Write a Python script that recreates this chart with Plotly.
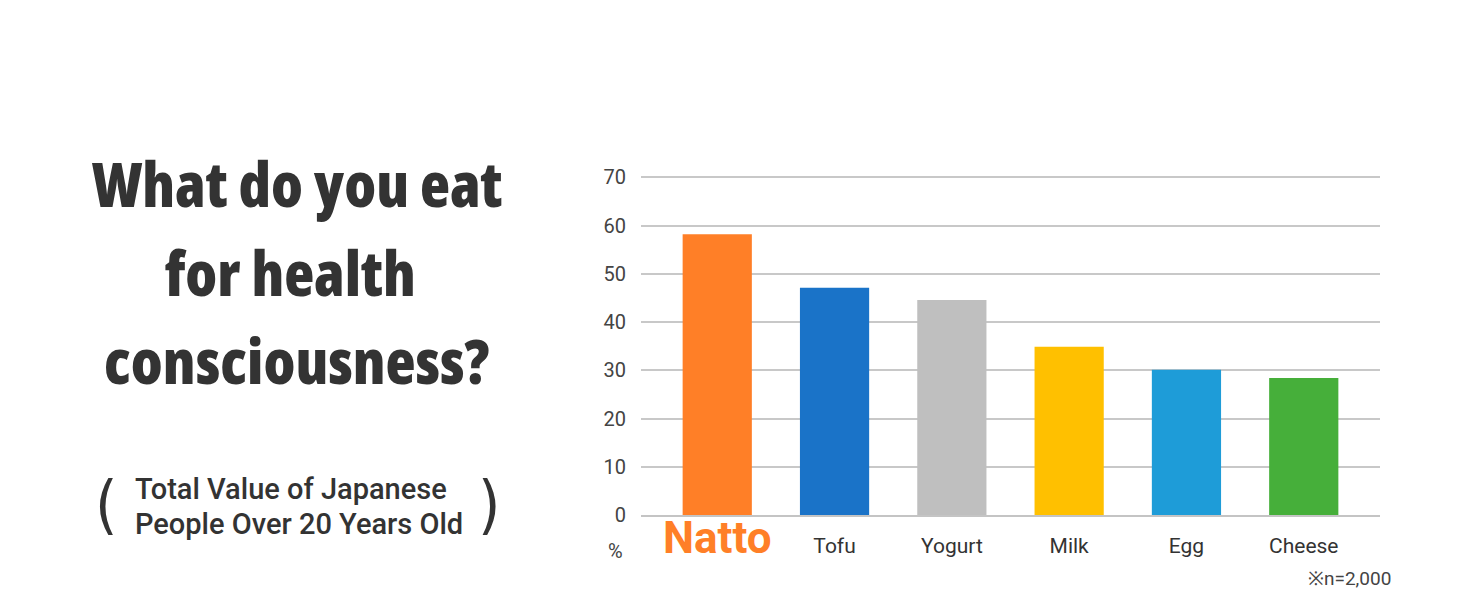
import plotly.graph_objects as go

# survey values (%)
foods = ["Natto", "Tofu", "Yogurt", "Milk", "Egg", "Cheese"]
shares = [58.2, 47.1, 44.6, 34.9, 30.1, 28.4]
bar_colors = ["#FF7F27", "#1A73C8", "#BFBFBF", "#FFC000", "#1E9CD8", "#46AF3A"]
y_ticks = [0, 10, 20, 30, 40, 50, 60, 70]

W, H = 1464, 600
OFF = 8  # page margin around the plot div
Y_TOP = 70.5  # a little headroom so the 70 gridline is drawn
L, R, B = 641 - OFF, 84 + OFF, 85 + OFF
T = round(177 - (515 - 177) / 70 * (Y_TOP - 70)) - OFF


def px(x):
    return (x - OFF - L) / (W - L - R)


def py(y):
    return 1 - (y - OFF - T) / (H - T - B)


tick_text = [
    "<span style='font-size:44px;color:#FF7F27'><b>%s</b></span>" % f
    if f == "Natto" else f
    for f in foods
]

fig = go.Figure(
    go.Bar(x=foods, y=shares, marker=dict(color=bar_colors, line_width=0), width=0.59)
)

fig.update_xaxes(
    range=[-0.65, len(foods) - 0.35],
    tickvals=foods,
    ticktext=tick_text,
    tickfont=dict(family="Roboto", size=21, color="#333"),
    showline=True, linecolor="#c4c4c4", linewidth=2,
    ticks="", ticklabelstandoff=11,
)
fig.update_yaxes(
    range=[0, Y_TOP],
    tickvals=y_ticks,
    tickfont=dict(family="Roboto", size=20, color="#444"),
    gridcolor="#c8c8c8", gridwidth=2,
    zeroline=False, ticklabelstandoff=14,
)


def condensed(s):
    return "<span style='font-stretch:75%%'>%s</span>" % s


title_font = dict(family="Open Sans", size=62, color="#333", weight=800)
sub_font = dict(family="Roboto", size=29, color="#333", weight=500)
paren_font = dict(family="DejaVu Sans Condensed", size=64, color="#333", weight=300)
annotations = [
    dict(x=px(297), y=py(183), text=condensed("What do you eat"), font=title_font),
    dict(x=px(290), y=py(272), text=condensed("for health"), font=title_font),
    dict(x=px(297), y=py(360), text=condensed("consciousness?"), font=title_font),
    dict(x=px(133), y=py(489), text="Total Value of Japanese", xanchor="left", font=sub_font),
    dict(x=px(133), y=py(524), text="People Over 20 Years Old", xanchor="left", font=sub_font),
    dict(x=px(106), y=py(505), text="(", font=paren_font),
    dict(x=px(489), y=py(505), text=")", font=paren_font),
    dict(x=px(615), y=py(551), text="%",
         font=dict(family="Roboto", size=20, color="#444")),
    dict(x=px(1393), y=py(578), text="※n=2,000", xanchor="right",
         font=dict(family="Roboto", size=19, color="#444")),
]
for a in annotations:
    a.update(xref="paper", yref="paper", showarrow=False)
    a.setdefault("xanchor", "center")
    a.setdefault("yanchor", "middle")

fig.update_layout(
    width=W, height=H,
    margin=dict(l=L, r=R, t=T, b=B),
    paper_bgcolor="white", plot_bgcolor="white",
    showlegend=False,
    annotations=annotations,
)

fig.write_html("out.html")
